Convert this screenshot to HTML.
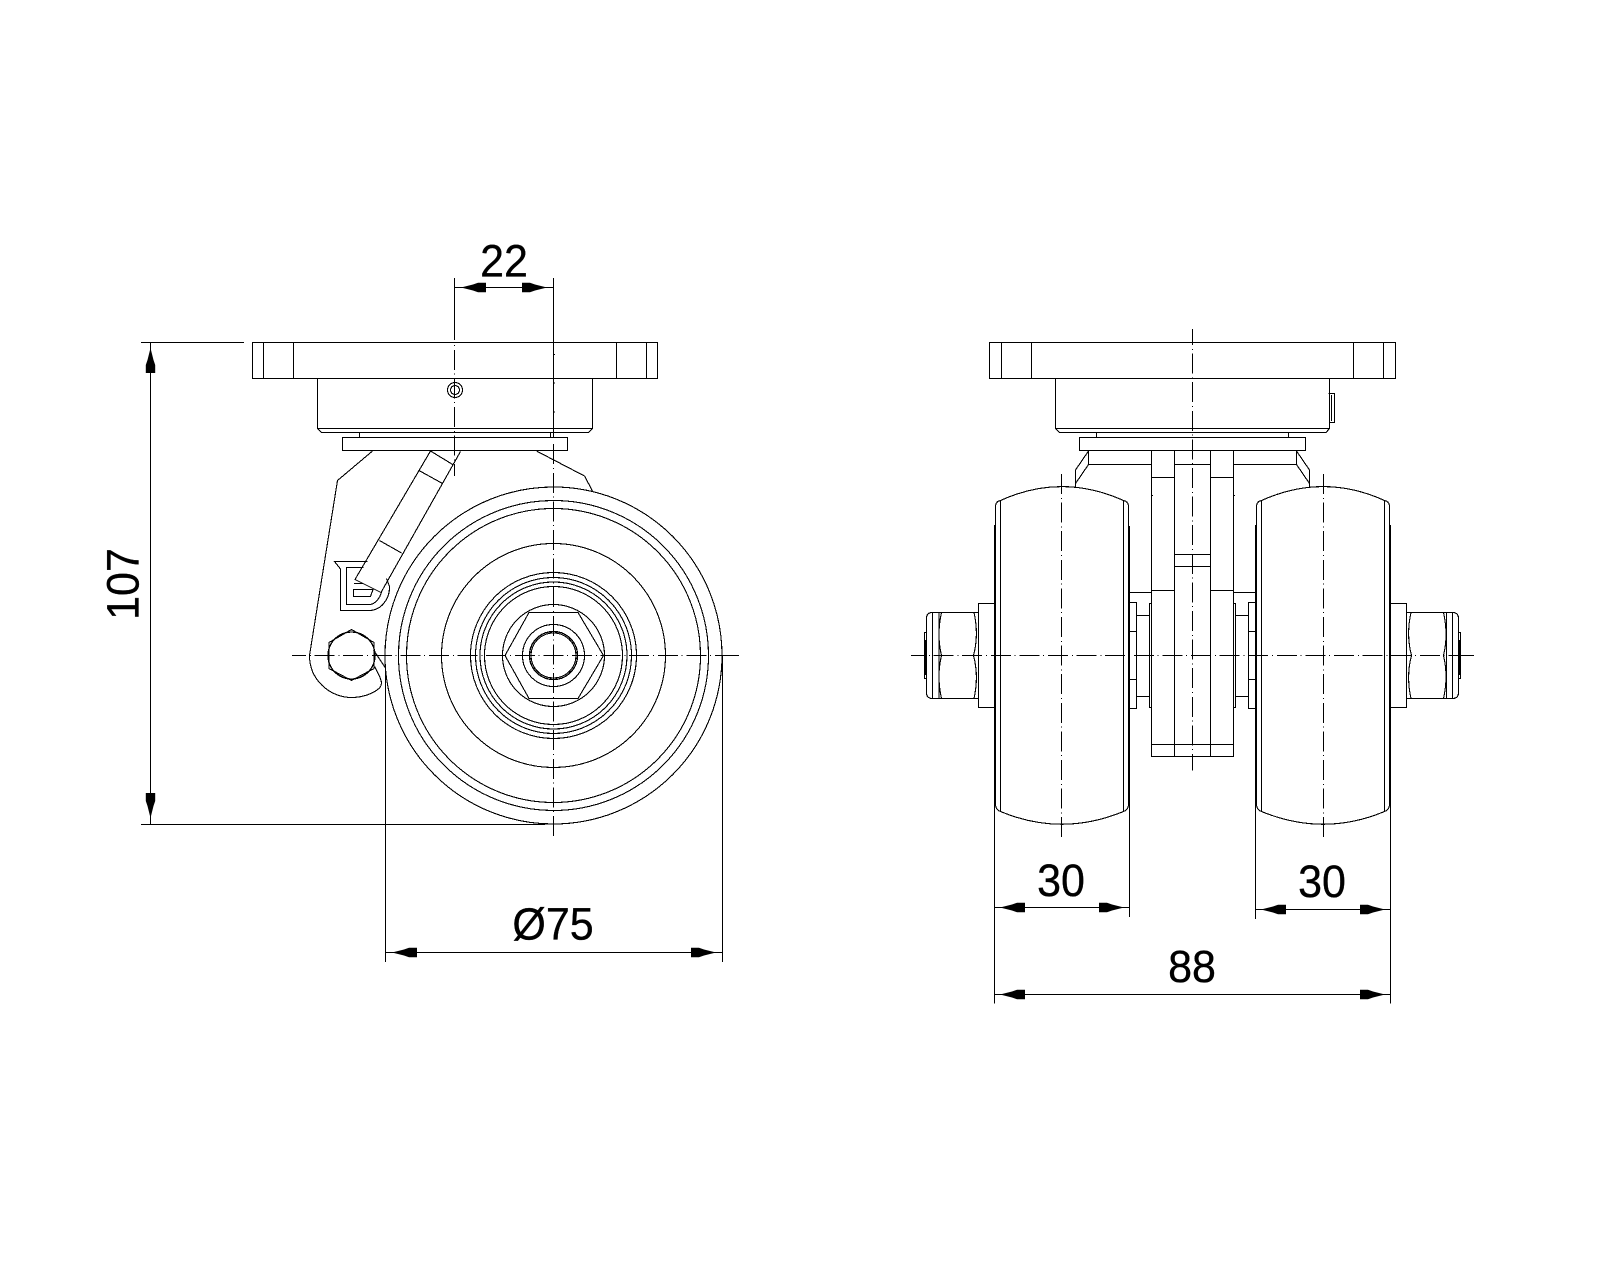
<!DOCTYPE html>
<html lang="en">
<head>
<meta charset="utf-8">
<title>Drawing</title>
<style>
html,body{margin:0;padding:0;background:#fff}
svg{display:block}
text{font-family:"Liberation Sans",sans-serif;font-size:43px;fill:#000;stroke:#000;stroke-width:.3;text-anchor:middle}
.l{fill:none;stroke:#000;stroke-width:1.1;shape-rendering:crispEdges}
.c{stroke-dasharray:20 3.8 1 3.8}
</style>
</head>
<body>
<svg width="1600" height="1280" viewBox="0 0 1600 1280" xmlns="http://www.w3.org/2000/svg">
<rect width="1600" height="1280" fill="#fff"/>
<defs>
<polygon id="a" points="0,0 6,-1.5 12,-3 17,-4.7 25,-4.7 25,4.7 17,4.7 12,3 6,1.5"/>
</defs>

<!-- LEFT VIEW -->
<g class="l">
<!-- plate and housing -->
<rect x="252.5" y="342.5" width="405" height="36"/>
<path d="M263.5 342.5V378.5M293.5 342.5V378.5M616.5 342.5V378.5M646.5 342.5V378.5"/>
<path d="M317.5 378.5V428.5H592.5V378.5M317.5 428.5L321.5 432.5H588.5L592.5 428.5M359.5 432.5V437.5M550.5 432.5V437.5"/>
<rect x="342.5" y="437.5" width="225" height="13"/>
<circle cx="455" cy="390" r="7.5"/><circle cx="455" cy="390" r="4.5"/>
<!-- bracket -->
<path d="M372.5 451L337.5 480.5L309.5 655.5C309.5 680 330 697.5 351.5 697.5C362 697.5 373 694 379.5 688C383 684 382 680 374.5 666.5"/>
<path d="M373.5 650L385.5 668"/>
<path d="M536.5 451L584.5 476L592.5 491"/>
<!-- lever -->
<path d="M430.5 451L355 579.5L381 592.5L460.5 451.5M430.5 451L453.5 465M419 470.5L442.5 483.5M379.5 540.5L401.5 553"/>
<path d="M367.5 561.5H334.5L340.5 569V610.5H369.5C380 610.5 390 600 389.5 586.5L386.5 578.5"/>
<path d="M363.5 567.5H346.5V604.5H369.5C375 604.5 380 598 381.5 592"/>
<path d="M353.5 589.5H373L370.5 596.5H353.5ZM354 583.5H362.5"/>
<!-- bolt -->
<polygon points="351.5,629.5 374,642.5 374,668.5 351.5,680.5 329,668.5 329,642.5"/>
<circle cx="351.5" cy="655.5" r="23.5" stroke-width="1.3"/>
<!-- wheel -->
<circle cx="553.5" cy="655.5" r="168.5"/>
<circle cx="553.5" cy="655.5" r="155"/>
<circle cx="553.5" cy="655.5" r="147"/>
<circle cx="553.5" cy="655.5" r="112"/>
<circle cx="553.5" cy="655.5" r="83"/>
<circle cx="553.5" cy="655.5" r="78"/>
<circle cx="553.5" cy="655.5" r="73.5"/>
<circle cx="553.5" cy="655.5" r="69"/>
<circle cx="553.5" cy="655.5" r="51"/>
<polygon points="505,655.5 529,612.5 578,612.5 603.5,655.5 578,698.5 529,698.5"/>
<circle cx="553.5" cy="655.5" r="31"/>
<circle cx="553.5" cy="655.5" r="24" stroke-width="1.3"/>
<circle cx="553.5" cy="655.5" r="22.5"/>
<!-- center lines -->
<path d="M454.5 278V340M553.5 278V437.5"/>
<line class="c" x1="454.5" y1="345" x2="454.5" y2="476" stroke-dashoffset="23.8"/>
<line class="c" x1="553.5" y1="444.2" x2="553.5" y2="837.5"/>
<line class="c" x1="292" y1="655.5" x2="739" y2="655.5" stroke-dashoffset="6"/>
<path d="M730 655.5H739"/>
<path d="M554.5 354V355M554.5 382.5V383.5M554.5 411.5V412.5"/>
<!-- dimensions -->
<path d="M141 342.5H244M150.5 342.5V824M141 824.5H545"/>
<path d="M454.5 287.5H553.5"/>
<path d="M385.5 668V962M722.5 655V962M385.5 952.5H722.5"/>
</g>
<use href="#a" transform="translate(461,287.5)"/>
<use href="#a" transform="translate(547,287.5) rotate(180)"/>
<use href="#a" transform="translate(150.5,348) rotate(90)"/>
<use href="#a" transform="translate(150.5,818) rotate(-90)"/>
<use href="#a" transform="translate(392,952.5)"/>
<use href="#a" transform="translate(716,952.5) rotate(180)"/>
<text transform="translate(504,276.5) scale(1,1.06)">22</text>
<text transform="translate(553,939.5) scale(1,1.06)">Ø75</text>
<text transform="translate(138.5,584) rotate(-90) scale(1,1.06)">107</text>

<!-- RIGHT VIEW -->
<g class="l">
<rect x="989.5" y="342.5" width="406" height="36"/>
<path d="M1001.5 342.5V378.5M1031.5 342.5V378.5M1353.5 342.5V378.5M1383.5 342.5V378.5"/>
<path d="M1055.5 378.5V428.5H1329.5V378.5M1055.5 428.5L1059.5 432.5H1326L1329.5 428.5M1096.5 432.5V437.5M1288.5 432.5V437.5"/>
<path d="M1328.5 393.5H1334.5V422.5H1329.5M1331.5 395V421"/>
<rect x="1079.5" y="437.5" width="226" height="13"/>
<!-- top brackets -->
<path d="M1088.5 450.5V464.5H1151.5M1088.5 451L1075.5 470V487M1088.5 464.5L1075.5 483.5"/>
<path d="M1296.5 450.5V464.5H1233.5M1296.5 451L1309.5 470V487M1296.5 464.5L1309.5 483.5"/>
<!-- fork -->
<path d="M1151.5 450.5V756.5H1233.5V450.5M1174.5 450.5V756.5M1210.5 450.5V756.5"/>
<path d="M1174.5 464.5H1210.5M1151.5 477.5H1174.5M1210.5 477.5H1233.5M1174.5 554.5H1210.5M1174.5 566.5H1210.5M1151.5 590.5H1174.5M1210.5 590.5H1233.5M1151.5 744.5H1233.5"/>
<path d="M1152.5 495V496M1234.5 495V496"/>
<!-- left wheel -->
<path d="M1000.5 500.5V811.5M1123.5 500.5V811.5"/>
<path d="M995.5 525V506Q996 501 1000.5 500.5Q1061.5 472.7 1123.5 500.5Q1128 501 1128.5 506V805Q1128 810 1123.5 811.5Q1061.5 837 1000.5 811.5Q996 810 995.5 805V525"/>
<path d="M994.5 525V1003.5M1129.5 526V917"/>
<!-- right wheel -->
<path d="M1261.5 500.5V811.5M1384.5 500.5V811.5"/>
<path d="M1256.5 525V506Q1257 501 1261.5 500.5Q1323.5 472.7 1384.5 500.5Q1389 501 1389.5 506V805Q1389 810 1384.5 811.5Q1323.5 837 1261.5 811.5Q1257 810 1256.5 805V525"/>
<path d="M1255.5 525V919M1390.5 525V1003.5"/>
<!-- left spacers -->
<path d="M1129.5 592.5H1151.5"/>
<rect x="1129.5" y="602.5" width="7" height="106"/>
<path d="M1129.5 631.5H1136.5M1129.5 679.5H1136.5M1136.5 615.5H1149.5M1136.5 696.5H1149.5"/>
<rect x="1149.5" y="603.5" width="2" height="104"/>
<!-- right spacers -->
<path d="M1233.5 592.5H1255.5"/>
<rect x="1248.5" y="602.5" width="7" height="106"/>
<path d="M1248.5 631.5H1255.5M1248.5 679.5H1255.5M1235.5 615.5H1248.5M1235.5 696.5H1248.5"/>
<rect x="1233.5" y="603.5" width="2" height="104"/>
<!-- left nut -->
<rect x="978.5" y="603.5" width="16" height="104"/>
<path d="M978.5 612.5H932.5Q926.5 612.5 926.5 618.5V692.5Q926.5 698.5 932.5 698.5H978.5M932.5 612.5V698.5"/>
<path d="M941.5 612.5Q936.5 635 941.5 655.5Q936.5 676 941.5 698.5M939 612.5V698.5"/>
<path d="M974 612.5Q979 635 973.5 655.5Q979 676 974 698.5"/>
<rect x="924.5" y="632.5" width="2" height="46"/>
<path d="M925.5 640V675" stroke-width="2"/>
<!-- right nut -->
<rect x="1390.5" y="603.5" width="16" height="104"/>
<path d="M1406.5 612.5H1452.5Q1458.5 612.5 1458.5 618.5V692.5Q1458.5 698.5 1452.5 698.5H1406.5M1452.5 612.5V698.5M1446.5 612.5V698.5"/>
<path d="M1443.5 612.5Q1448.5 635 1443.5 655.5Q1448.5 676 1443.5 698.5"/>
<path d="M1411 612.5Q1406 635 1411.5 655.5Q1406 676 1411 698.5"/>
<rect x="1458.5" y="632.5" width="2" height="46"/>
<path d="M1459.5 640V675" stroke-width="2"/>
<!-- center lines -->
<line class="c" x1="1192.5" y1="329" x2="1192.5" y2="770.5" stroke-dashoffset="4"/>
<line class="c" x1="1061.5" y1="474" x2="1061.5" y2="837.5"/>
<line class="c" x1="1323.5" y1="474" x2="1323.5" y2="837.5"/>
<line class="c" x1="911" y1="655.5" x2="1474" y2="655.5" stroke-dashoffset="6"/>
<path d="M1465 655.5H1474"/>
<!-- dimensions -->
<path d="M994.5 907.5H1129.5M1255.5 909.5H1390.5M994.5 994.5H1390.5"/>
</g>
<use href="#a" transform="translate(1000,907.5)"/>
<use href="#a" transform="translate(1124,907.5) rotate(180)"/>
<use href="#a" transform="translate(1261,909.5)"/>
<use href="#a" transform="translate(1385,909.5) rotate(180)"/>
<use href="#a" transform="translate(1000,994.5)"/>
<use href="#a" transform="translate(1385,994.5) rotate(180)"/>
<text transform="translate(1061,896) scale(1,1.06)">30</text>
<text transform="translate(1322,897) scale(1,1.06)">30</text>
<text transform="translate(1192,982) scale(1,1.06)">88</text>
</svg>
</body>
</html>
